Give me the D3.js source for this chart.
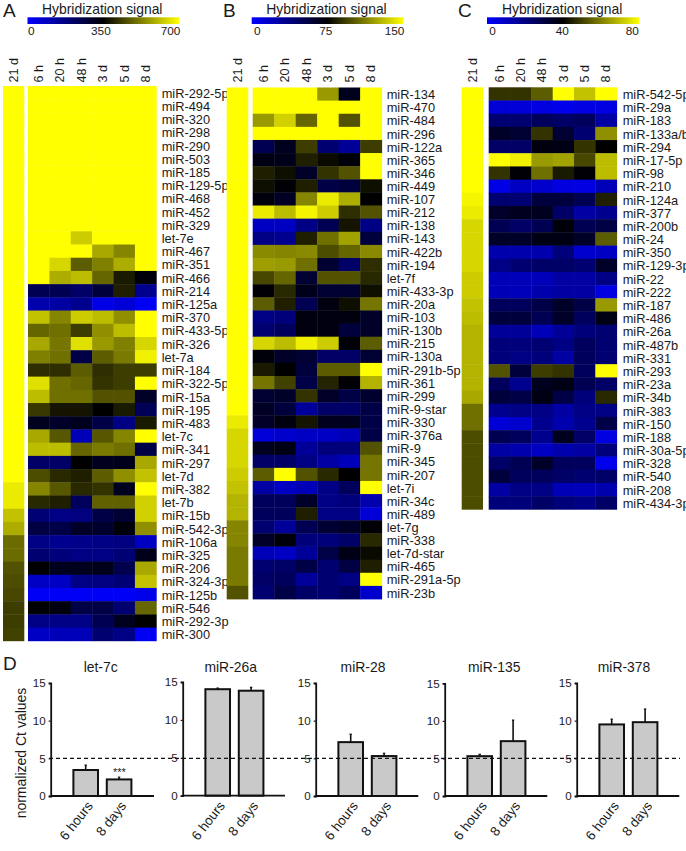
<!DOCTYPE html>
<html>
<head>
<meta charset="utf-8">
<script src="https://cdnjs.cloudflare.com/ajax/libs/d3/7.8.5/d3.min.js"></script>
<style>
html,body{margin:0;padding:0;background:#fff}
svg{display:block}
text{font-family:"Liberation Sans",Arial,sans-serif;fill:#1a1a1a}
</style>
</head>
<body>
<svg id="fig" width="686" height="851"></svg>
<script>
// ---------- DATA (heat values: percent of each panel's colour-bar maximum) ----------
const timeCols = ["6 h","20 h","48 h","3 d","5 d","8 d"];

const labelsA = ["miR-292-5p","miR-494","miR-320","miR-298","miR-290","miR-503","miR-185","miR-129-5p","miR-468","miR-452","miR-329","let-7e","miR-467","miR-351","miR-466","miR-214","miR-125a","miR-370","miR-433-5p","miR-326","let-7a","miR-184","miR-322-5p","miR-15a","miR-195","miR-483","let-7c","miR-341","miR-297","let-7d","miR-382","let-7b","miR-15b","miR-542-3p","miR-106a","miR-325","miR-206","miR-324-3p","miR-125b","miR-546","miR-292-3p","miR-300"];
const adultA = [100,100,100,100,100,100,100,100,100,100,100,100,100,100,100,100,100,100,100,100,100,100,100,100,100,100,100,100,100,100,96,96,88,84,71,71,66,65,64,62,62,63];
const valuesA = [
[100,100,100,100,100,100],[100,100,100,100,100,100],[100,100,100,100,100,100],[100,100,100,100,100,100],
[100,100,100,100,100,100],[100,100,100,100,100,100],[100,100,100,100,100,100],[100,100,100,100,100,100],
[100,100,100,100,100,100],[100,100,100,100,100,100],[100,100,100,100,100,100],
[100,100,90,100,100,100],[100,100,100,83,76,100],[100,92,68,75,84,100],[100,84,87,70,55,48],
[34,34,30,38,56,22],[16,18,22,5,8,2],[88,76,90,87,78,100],[70,72,62,78,87,100],[83,73,94,80,75,92],
[75,72,36,68,74,97],[59,59,68,59,62,62],[94,72,70,60,62,100],[87,72,72,66,66,42],[61,54,54,50,55,33],
[44,42,44,36,24,55],[83,67,14,67,76,100],[87,87,70,74,72,36],[30,30,50,44,45,83],[65,58,56,68,78,88],
[76,67,58,60,44,100],[58,56,32,69,69,91],[27,24,25,36,40,91],[37,36,42,41,48,78],[24,22,23,24,25,12],
[28,26,24,24,27,45],[50,44,44,45,35,83],[12,12,24,25,27,88],[2,2,2,2,2,4],[50,47,36,36,28,70],
[24,24,24,34,44,50],[12,14,14,28,24,2]];

const labelsB = ["miR-134","miR-470","miR-484","miR-296","miR-122a","miR-365","miR-346","miR-449","miR-107","miR-212","miR-138","miR-143","miR-422b","miR-194","let-7f","miR-433-3p","miR-20a","miR-103","miR-130b","miR-215","miR-130a","miR-291b-5p","miR-361","miR-299","miR-9-star","miR-330","miR-376a","miR-9","miR-345","miR-207","let-7i","miR-34c","miR-489","let-7g","miR-338","let-7d-star","miR-465","miR-291a-5p","miR-23b"];
const adultB = [100,100,100,100,100,100,100,100,100,100,100,100,100,100,100,100,100,100,100,100,100,100,100,100,100,96,92,92,92,90,88,85,85,76,76,74,74,74,66];
const valuesB = [
[100,100,100,80,44,100],[100,100,100,100,100,100],[80,91,70,100,66,100],[100,100,100,100,100,100],
[34,44,62,28,20,62],[46,45,56,52,48,100],[56,53,42,60,66,100],[53,49,56,36,38,53],[48,43,76,96,84,50],
[96,87,98,90,59,66],[12,12,24,34,54,24],[24,22,56,72,82,38],[77,76,77,65,70,77],[81,80,72,40,30,59],
[64,70,40,66,66,58],[49,58,45,40,40,53],[68,56,34,47,53,73],[24,26,47,47,47,42],[28,32,47,47,38,42],
[92,87,97,90,49,68],[48,42,40,30,30,40],[55,50,38,68,68,100],[73,63,36,57,49,85],[40,42,60,42,36,41],
[43,38,20,30,30,36],[42,47,54,44,44,36],[8,10,12,12,14,36],[44,46,20,26,26,66],[30,30,24,18,14,73],
[68,100,66,58,50,73],[18,12,14,24,32,100],[32,32,42,24,26,16],[32,32,56,24,24,8],[28,20,34,40,42,49],
[42,48,26,26,30,58],[14,12,20,36,46,52],[28,30,36,28,37,56],[30,32,20,28,24,100],[28,36,30,28,32,10]];

const labelsC = ["miR-542-5p","miR-29a","miR-183","miR-133a/b","miR-294","miR-17-5p","miR-98","miR-210","miR-124a","miR-377","miR-200b","miR-24","miR-350","miR-129-3p","miR-22","miR-222","miR-187","miR-486","miR-26a","miR-487b","miR-331","miR-293","miR-23a","miR-34b","miR-383","miR-150","miR-188","miR-30a-5p","miR-328","miR-540","miR-208","miR-434-3p"];
const adultC = [100,100,100,100,100,100,100,100,98,96,92,92,92,92,90,90,88,87,85,85,85,85,85,83,72,72,65,65,65,65,65,65];
const valuesC = [
[60,60,68,100,88,100],[8,8,6,4,6,6],[28,28,32,30,32,18],[42,40,60,40,28,78],[30,30,47,46,60,50],
[100,97,80,82,64,87],[60,49,72,55,49,87],[5,12,10,6,6,14],[28,28,38,38,34,56],[42,44,44,30,18,22],
[34,30,34,48,34,36],[42,42,46,46,42,68],[16,16,16,26,10,12],[24,28,30,30,28,42],[14,14,14,18,18,24],
[14,14,16,18,18,6],[32,32,36,42,36,80],[38,38,34,42,32,46],[20,20,14,20,26,28],[26,26,28,24,32,28],
[26,24,26,18,32,28],[66,38,62,60,32,100],[32,22,44,46,34,30],[38,36,46,36,26,58],[22,24,24,18,24,24],
[8,10,22,16,22,36],[34,32,22,44,30,6],[18,16,12,16,18,26],[30,34,42,32,32,4],[38,32,32,30,28,30],
[18,24,24,14,14,16],[26,26,30,26,24,30]];

const barCats = ["6 hours","8 days"];
const barTitles = ["let-7c","miR-26a","miR-28","miR-135","miR-378"];
const barMeans = [[3.45,2.2],[14.05,13.85],[7.15,5.3],[5.3,7.3],[9.5,9.8]];
const barErrTops = [[4.1,2.5],[14.2,14.3],[8.2,5.67],[5.55,10.1],[10.2,11.55]];
const barTicks = [0,5,10,15];
const refLine = 5;

// ---------- LAYOUT ----------
const svg = d3.select("#fig");
const color = d3.scaleLinear().domain([0,50,100]).range(["#0000ff","#000000","#ffff00"]);

const panels = [
 {id:"A",labels:labelsA,adult:adultA,vals:valuesA,max:700,letterX:3,
  adultX:[3,24.3],heatX:[28,156.3],y:[86,640.8],labelX:161.7,
  barX:[27.5,179],tickX:[30.7,170]},
 {id:"B",labels:labelsB,adult:adultB,vals:valuesB,max:150,letterX:223,
  adultX:[226.7,248.3],heatX:[252.7,381.7],y:[87.5,599],labelX:386.7,
  barX:[251.7,403.3],tickX:[256.7,394]},
 {id:"C",labels:labelsC,adult:adultC,vals:valuesC,max:80,letterX:458,
  adultX:[461.7,483],heatX:[488.7,616.7],y:[87.3,509.3],labelX:622.7,
  barX:[487,639.3],tickX:[492,631.7]}
];

const defs = svg.append("defs");

panels.forEach(p => {
  const g = svg.append("g").attr("class","panel"+p.id);
  g.append("text").attr("x",p.letterX).attr("y",16.5).attr("font-size",19).text(p.id);
  g.append("text").attr("x",(p.barX[0]+p.barX[1])/2-1).attr("y",13.6)
   .attr("text-anchor","middle").attr("font-size",13.9).text("Hybridization signal");

  // colour bar
  const grad = defs.append("linearGradient").attr("id","grad"+p.id);
  grad.selectAll("stop").data([0,50,100]).join("stop")
    .attr("offset",d=>d+"%").attr("stop-color",d=>color(d));
  g.append("rect").attr("x",p.barX[0]).attr("y",17.3)
   .attr("width",p.barX[1]-p.barX[0]).attr("height",6.7).attr("fill",`url(#grad${p.id})`);
  const legend = d3.scaleLinear().domain([0,p.max]).range(p.tickX);
  const ax = g.append("g").attr("transform","translate(0,24)")
    .call(d3.axisBottom(legend).tickValues([0,p.max/2,p.max]).tickSize(0).tickPadding(3).tickFormat(d3.format("d")));
  ax.select(".domain").remove();
  ax.selectAll("text").attr("font-size",11.8).attr("font-family",'"Liberation Sans",Arial,sans-serif').attr("fill","#1a1a1a");

  // scales
  const y = d3.scaleBand().domain(p.labels).range(p.y);
  const xHeat = d3.scaleBand().domain(timeCols).range(p.heatX);
  const adultLeft = p.adultX[0], adultW = p.adultX[1]-p.adultX[0];

  // column headers
  const headerAt = (name,cx) => g.append("text")
     .attr("transform",`translate(${cx+4.4},82.5) rotate(-90)`)
     .attr("font-size",12.6).text(name);
  headerAt("21 d",adultLeft+adultW/2);
  timeCols.forEach(c => headerAt(c,xHeat(c)+xHeat.bandwidth()/2));

  // adult column
  g.append("g").selectAll("rect").data(p.adult).join("rect")
    .attr("x",adultLeft).attr("width",adultW)
    .attr("y",(d,i)=>y(p.labels[i])).attr("height",y.bandwidth()+0.4)
    .attr("fill",d=>color(d));

  // heat cells
  const rows = g.append("g").selectAll("g").data(p.vals).join("g")
    .attr("transform",(d,i)=>`translate(0,${y(p.labels[i])})`);
  rows.selectAll("rect").data(d=>d).join("rect")
    .attr("x",(d,j)=>xHeat(timeCols[j])).attr("width",xHeat.bandwidth()+0.4)
    .attr("height",y.bandwidth()+0.4).attr("fill",d=>color(d));

  // row labels
  g.append("g").selectAll("text").data(p.labels).join("text")
    .attr("x",p.labelX).attr("y",d=>y(d)+y.bandwidth()/2+0.5)
    .attr("dy","0.36em").attr("font-size",12.8).text(d=>d);
});

// ---------- PANEL D ----------
const D = svg.append("g").attr("class","panelD");
D.append("text").attr("x",3).attr("y",669.5).attr("font-size",19).text("D");

const barLayout = [
 {x0:50.7, xEnd:154,   top:683,   bot:796,   tc:100.7},
 {x0:182.7,xEnd:285,   top:682,   bot:795.7, tc:230.7},
 {x0:315.7,xEnd:418.3, top:683,   bot:796,   tc:363},
 {x0:444.7,xEnd:547.3, top:683.3, bot:796,   tc:494.3},
 {x0:576.7,xEnd:679.3, top:683,   bot:796,   tc:624}
];

D.append("text").attr("transform","translate(26.3,753) rotate(-90)")
  .attr("text-anchor","middle").attr("font-size",14).text("normalized Ct values");

barTitles.forEach((title,i) => {
  const L = barLayout[i];
  const y = d3.scaleLinear().domain([0,15]).range([L.bot,L.top]);
  const x = d3.scaleBand().domain(barCats)
     .range([L.x0+18.3,L.x0+85.1]).paddingInner(0.263).paddingOuter(0.1315);
  const g = D.append("g");
  g.append("text").attr("x",L.tc).attr("y",671.5).attr("text-anchor","middle").attr("font-size",13.9).text(title);

  // error bars
  g.selectAll("line.err").data(barCats).join("line").attr("class","err")
    .attr("x1",c=>x(c)+x.bandwidth()/2).attr("x2",c=>x(c)+x.bandwidth()/2)
    .attr("y1",(c,j)=>y(barMeans[i][j])).attr("y2",(c,j)=>y(barErrTops[i][j]))
    .attr("stroke","#111").attr("stroke-width",1.6);
  g.selectAll("line.cap").data(barCats).join("line").attr("class","cap")
    .attr("x1",c=>x(c)+x.bandwidth()/2-1.2).attr("x2",c=>x(c)+x.bandwidth()/2+1.2)
    .attr("y1",(c,j)=>y(barErrTops[i][j])).attr("y2",(c,j)=>y(barErrTops[i][j]))
    .attr("stroke","#111").attr("stroke-width",1.2);

  // bars
  g.selectAll("rect").data(barCats).join("rect")
    .attr("x",c=>x(c)).attr("width",x.bandwidth())
    .attr("y",(c,j)=>y(barMeans[i][j])).attr("height",(c,j)=>L.bot-y(barMeans[i][j]))
    .attr("fill","#c9c9c9").attr("stroke","#111").attr("stroke-width",2);

  // axes
  const yAxis = g.append("g").attr("transform",`translate(${L.x0},0)`)
    .call(d3.axisLeft(y).tickValues(barTicks).tickSize(2).tickPadding(3));
  yAxis.select(".domain").attr("stroke","#111").attr("stroke-width",1.8);
  yAxis.selectAll(".tick line").attr("stroke","#111").attr("stroke-width",1.2);
  yAxis.selectAll("text").attr("font-size",11.6).attr("font-family",'"Liberation Sans",Arial,sans-serif').attr("fill","#333");

  g.append("line").attr("x1",L.x0).attr("x2",L.xEnd).attr("y1",L.bot).attr("y2",L.bot)
    .attr("stroke","#111").attr("stroke-width",1.8);

  // x labels
  g.selectAll("text.xl").data(barCats).join("text").attr("class","xl")
    .attr("transform",c=>`translate(${x(c)+x.bandwidth()/2+4},803) rotate(-52)`)
    .attr("text-anchor","end").attr("dy","0.36em").attr("font-size",13.4).text(c=>c);
});

// significance marker and reference line
const y0 = d3.scaleLinear().domain([0,15]).range([796,683]);
D.append("text").attr("x",119.4).attr("y",776).attr("text-anchor","middle").attr("font-size",11).text("***");
D.append("line").attr("x1",49).attr("x2",680).attr("y1",y0(refLine)).attr("y2",y0(refLine))
  .attr("stroke","#111").attr("stroke-width",1.1).attr("stroke-dasharray","4,3");
</script>
</body>
</html>
